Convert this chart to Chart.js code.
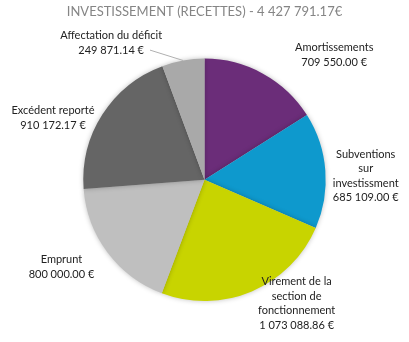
<!DOCTYPE html>
<html>
<head>
<meta charset="utf-8">
<script src="https://cdn.jsdelivr.net/npm/chart.js@4/dist/chart.umd.min.js"></script>
<style>
  html, body { margin: 0; padding: 0; background: #fff; }
  #wrap { width: 409px; height: 342px; }
</style>
</head>
<body>
<div id="wrap"><canvas id="chart"></canvas></div>
<script>
const categories = [
  ["Amortissements"],
  ["Subventions", "sur", "investissment"],
  ["Virement de la", "section de", "fonctionnement"],
  ["Emprunt"],
  ["Excédent reporté"],
  ["Affectation du déficit"],
];
const amounts = [709550.0, 685109.0, 1073088.86, 800000.0, 910172.17, 249871.14];
const colors = ["#6b2d79", "#0e99cd", "#c8d400", "#bfbfbf", "#656565", "#a9a9a9"];

// where each label block sits, in pie radii from the centre
const labelSpots = [
  { x: 1.07, y: -1.03 },
  { x: 1.33, y: -0.03 },
  { x: 0.76, y: 1.02 },
  { x: -1.18, y: 0.72 },
  { x: -1.25, y: -0.51 },
  { x: -0.77, y: -1.13, leader: true },
];

const FONT = "Lato, 'Open Sans', sans-serif";

function money(v) {
  const parts = v.toFixed(2).split(".");
  return parts[0].replace(/\B(?=(\d{3})+(?!\d))/g, " ") + "." + parts[1];
}

const total = amounts.reduce((s, v) => s + v, 0);

const shadow = {
  id: "shadow",
  beforeDatasetsDraw(chart) {
    const ctx = chart.ctx;
    ctx.save();
    ctx.shadowColor = "rgba(0,0,0,0.25)";
    ctx.shadowBlur = 5;
  },
  afterDatasetsDraw(chart) {
    chart.ctx.restore();
  },
};

const sliceLabels = {
  id: "sliceLabels",
  afterDraw(chart) {
    const ctx = chart.ctx;
    const arcs = chart.getDatasetMeta(0).data;
    const cx = arcs[0].x, cy = arcs[0].y, r = arcs[0].outerRadius;
    const lh = 14.5;
    ctx.save();
    ctx.font = "11px " + FONT;
    ctx.fillStyle = "#222";
    ctx.textAlign = "center";
    ctx.textBaseline = "middle";
    categories.forEach((lines, i) => {
      const spot = labelSpots[i];
      const all = lines.concat([money(amounts[i]) + " €"]);
      const x = cx + spot.x * r;
      const y0 = cy + spot.y * r - (all.length - 1) * lh / 2;
      all.forEach((t, k) => ctx.fillText(t, x, y0 + k * lh));
      if (spot.leader) {
        const a = (arcs[i].startAngle + arcs[i].endAngle) / 2;
        const ex = cx + Math.cos(a) * r, ey = cy + Math.sin(a) * r;
        const last = y0 + (all.length - 1) * lh;
        const w = ctx.measureText(all[all.length - 1]).width;
        ctx.strokeStyle = "#b0b0b0";
        ctx.lineWidth = 1;
        ctx.beginPath();
        ctx.moveTo(x + w / 2 + 6, last);
        ctx.lineTo(ex, ey);
        ctx.stroke();
      }
    });
    ctx.restore();
  },
};

new Chart(document.getElementById("chart"), {
  type: "pie",
  data: {
    labels: categories,
    datasets: [{
      data: amounts,
      backgroundColor: colors,
      borderWidth: 0,
    }],
  },
  options: {
    responsive: true,
    maintainAspectRatio: false,
    animation: false,
    layout: { padding: { top: 0, bottom: 41, left: 0, right: 0 } },
    plugins: {
      legend: { display: false },
      tooltip: { enabled: false },
      title: {
        display: true,
        text: "INVESTISSEMENT (RECETTES) - " + money(total) + "€",
        color: "#858585",
        font: { family: FONT, size: 13, weight: "normal" },
        padding: { top: 4, bottom: 39 },
      },
    },
  },
  plugins: [shadow, sliceLabels],
});
</script>
</body>
</html>
